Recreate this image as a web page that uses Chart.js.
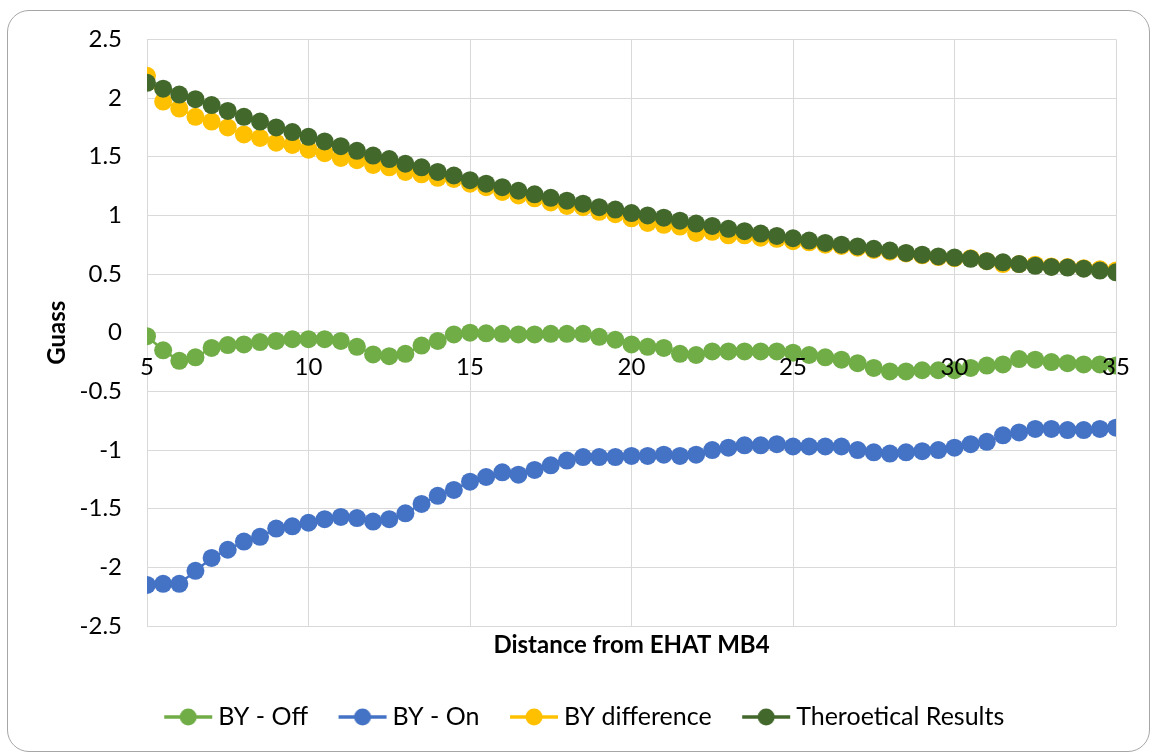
<!DOCTYPE html>
<html><head><meta charset="utf-8">
<script src="https://cdn.jsdelivr.net/npm/chart.js@4/dist/chart.umd.min.js"></script>
<style>
html,body{margin:0;padding:0;background:#fff;}
#wrap{position:relative;width:1154px;height:755px;overflow:hidden;}
#frame{position:absolute;left:7px;top:10px;width:1141px;height:740px;border:1.5px solid #a6a6a6;border-radius:22px;pointer-events:none;}
canvas{position:absolute;left:0;top:0;}
</style>
</head><body><div id="wrap"><canvas id="c" width="1154" height="755"></canvas><div id="frame"></div></div>
<script>
const distances = [5,5.5,6,6.5,7,7.5,8,8.5,9,9.5,10,10.5,11,11.5,12,12.5,13,13.5,14,14.5,15,15.5,16,16.5,17,17.5,18,18.5,19,19.5,20,20.5,21,21.5,22,22.5,23,23.5,24,24.5,25,25.5,26,26.5,27,27.5,28,28.5,29,29.5,30,30.5,31,31.5,32,32.5,33,33.5,34,34.5,35];
const byOff = [-0.03,-0.15,-0.24,-0.21,-0.13,-0.105,-0.10,-0.08,-0.07,-0.055,-0.055,-0.055,-0.07,-0.12,-0.185,-0.20,-0.18,-0.11,-0.07,-0.015,0.00,-0.005,-0.01,-0.015,-0.015,-0.01,-0.01,-0.01,-0.035,-0.06,-0.10,-0.12,-0.13,-0.18,-0.19,-0.16,-0.16,-0.16,-0.16,-0.16,-0.17,-0.19,-0.21,-0.23,-0.26,-0.30,-0.33,-0.33,-0.32,-0.32,-0.32,-0.30,-0.28,-0.27,-0.225,-0.23,-0.25,-0.26,-0.27,-0.27,-0.28];
const byOn = [-2.15,-2.14,-2.14,-2.03,-1.92,-1.85,-1.78,-1.74,-1.67,-1.65,-1.62,-1.59,-1.57,-1.58,-1.61,-1.59,-1.54,-1.46,-1.39,-1.34,-1.27,-1.23,-1.19,-1.21,-1.17,-1.13,-1.09,-1.06,-1.06,-1.06,-1.05,-1.05,-1.04,-1.05,-1.04,-1.00,-0.98,-0.96,-0.96,-0.95,-0.97,-0.97,-0.97,-0.97,-1.00,-1.02,-1.03,-1.02,-1.01,-1.00,-0.98,-0.95,-0.93,-0.875,-0.85,-0.82,-0.82,-0.83,-0.83,-0.82,-0.81];
const byDifference = [2.19,1.97,1.91,1.84,1.80,1.75,1.69,1.66,1.62,1.60,1.56,1.53,1.49,1.47,1.43,1.41,1.37,1.35,1.32,1.31,1.27,1.24,1.20,1.17,1.145,1.11,1.08,1.07,1.03,1.01,0.975,0.935,0.92,0.905,0.85,0.86,0.83,0.83,0.81,0.80,0.78,0.77,0.75,0.74,0.725,0.705,0.69,0.675,0.66,0.645,0.635,0.635,0.61,0.585,0.585,0.58,0.565,0.56,0.55,0.54,0.53];
const theoretical = [2.13,2.08,2.03,1.99,1.94,1.89,1.84,1.80,1.75,1.71,1.67,1.63,1.59,1.55,1.51,1.48,1.44,1.41,1.37,1.34,1.30,1.27,1.24,1.21,1.18,1.15,1.125,1.10,1.07,1.05,1.02,1.00,0.98,0.955,0.93,0.91,0.885,0.865,0.845,0.825,0.805,0.785,0.765,0.75,0.735,0.715,0.70,0.68,0.665,0.65,0.64,0.63,0.61,0.60,0.585,0.57,0.56,0.555,0.545,0.53,0.515];
const seriesNames = ['BY - Off','BY - On','BY difference','Theroetical Results'];
const xTitle = 'Distance from EHAT MB4';
const yTitle = 'Guass';

const colors = ['#70AD47','#4472C4','#FFC000','#43682B'];
const FONT = 'Lato, "Open Sans", sans-serif';

function pts(arr){ return distances.map((d,i)=>({x:d,y:arr[i]})); }
function legendIcon(color){
  const c=document.createElement('canvas'); c.width=50; c.height=22;
  const g=c.getContext('2d');
  g.strokeStyle=color; g.lineWidth=3.5; g.beginPath(); g.moveTo(1,11); g.lineTo(49,11); g.stroke();
  g.fillStyle=color; g.beginPath(); g.arc(25,11,8.5,0,Math.PI*2); g.fill();
  return c;
}
const icons = colors.map(legendIcon);
const allSeries = [byOff, byOn, byDifference, theoretical];
const orders = [3,2,1,0];

const datasets = allSeries.map((s,i)=>({
  label: seriesNames[i], data: pts(s), showLine: true,
  borderColor: colors[i], backgroundColor: colors[i], borderWidth: 2.5,
  pointRadius: 9, pointHoverRadius: 9, pointBorderWidth: 0,
  pointBackgroundColor: colors[i], order: orders[i]
}));

const gridColor = '#d9d9d9';
const tickFont = { family: FONT, size: 24 };
new Chart(document.getElementById('c'), {
  type: 'scatter',
  data: { datasets },
  options: {
    responsive: false, animation: false,
    layout: { padding: { left: 59, right: 38, top: 39, bottom: 15.5 } },
    plugins: {
      tooltip: { enabled: false },
      legend: {
        position: 'bottom',
        labels: {
          usePointStyle: true, pointStyleWidth: 35, padding: 37, color: '#000',
          font: { family: FONT, size: 25 },
          generateLabels: (chart) => seriesNames.map((n,i)=>({
            text: n, pointStyle: icons[i], fillStyle: colors[i], strokeStyle: colors[i],
            lineWidth: 0, hidden: false, datasetIndex: i, fontColor: '#000'
          }))
        }
      }
    },
    scales: {
      x: {
        type: 'linear', position: { y: 0 }, min: 5, max: 35,
        ticks: { stepSize: 5, padding: 20, z: 1, color: '#000', font: tickFont, maxRotation: 0 },
        grid: { color: gridColor, lineWidth: 1, drawTicks: false },
        border: { color: gridColor, width: 1 }
      },
      x2: {
        type: 'linear', position: 'bottom', axis: 'x', min: 5, max: 35,
        ticks: { display: false },
        grid: { display: false, drawTicks: false },
        border: { display: false },
        title: { display: true, text: xTitle, color: '#000', font: { family: FONT, size: 24, weight: 'bold' }, padding: { top: 5, bottom: 7.7 } }
      },
      y: {
        type: 'linear', position: 'left', min: -2.5, max: 2.5,
        ticks: { stepSize: 0.5, padding: 25, color: '#000', font: tickFont, callback: v => String(Math.round(v*10)/10) },
        grid: { color: gridColor, lineWidth: 1, drawTicks: false },
        border: { color: gridColor, width: 1 },
        title: { display: true, text: yTitle, color: '#000', font: { family: FONT, size: 24, weight: 'bold' }, padding: { top: -16.4, bottom: 4 } },
        afterFit: (s) => { s.width = 88; }
      }
    }
  }
});
</script></body></html>
